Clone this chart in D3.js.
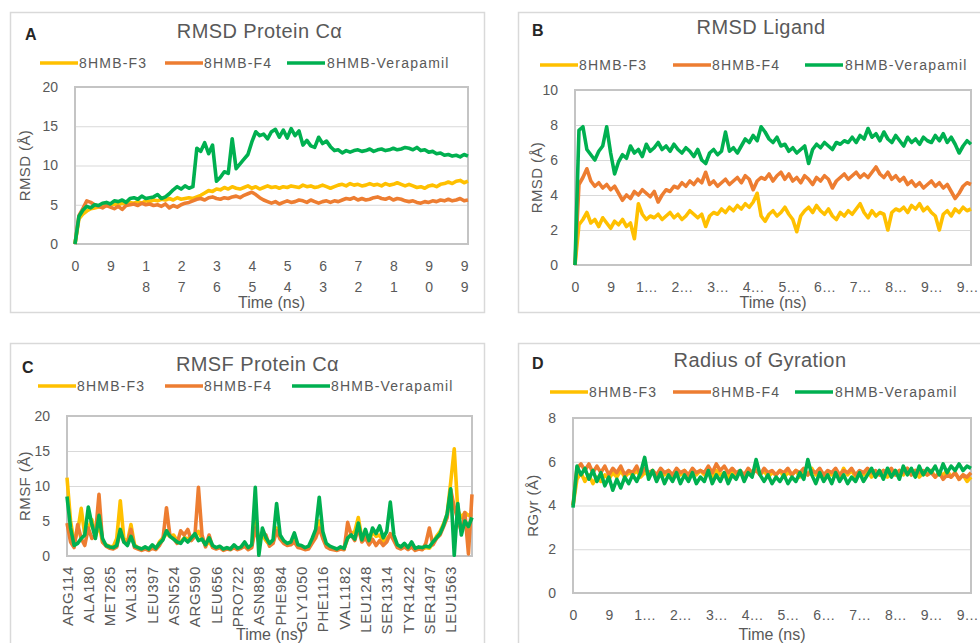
<!DOCTYPE HTML>
<html>
  <head>
    <meta charset="utf-8">
    <style>
      body { margin: 0; background: #ffffff; }
      svg text { font-family: "Liberation Sans", Arial, sans-serif; }
    </style>
  </head>
  <body>

	<script type="text/javascript" src="https://cdn.jsdelivr.net/npm/d3@7/dist/d3.min.js"></script>

    <script>

		// *** DATA ***

		// Series (same order in every panel)
		var seriesNames = ['8HMB-F3', '8HMB-F4', '8HMB-Verapamil'];
		var seriesColors = ['#FFC000', '#ED7D31', '#00B050'];

		// Time axis ticks (ns) and their labels
		var timeTicks = [0, 9, 18, 27, 36, 45, 54, 63, 72, 81, 90, 99];
		var timeLabelsFull = ['0', '9', '18', '27', '36', '45', '54', '63', '72', '81', '90', '99'];
		var timeLabelsCut = ['0', '9', '1…', '2…', '3…', '4…', '5…', '6…', '7…', '8…', '9…', '9…'];

		// Y ticks
		var yTicksRmsdProt = [0, 5, 10, 15, 20];
		var yTicksRmsdLig = [0, 2, 4, 6, 8, 10];
		var yTicksRmsf = [0, 5, 10, 15, 20];
		var yTicksRgyr = [0, 2, 4, 6, 8];

		// A: RMSD Protein C-alpha, one value per ns (0..100)
		var rmsdProtF3 = [0,3.2,3.8,4.2,4.5,4.6,4.7,4.8,4.9,5.0,
			5.1,5.0,5.2,5.1,5.3,5.2,5.4,5.2,5.5,5.4,
			5.6,5.5,5.7,5.6,5.8,5.6,5.9,5.7,5.8,5.9,
			5.8,6.0,6.2,6.5,6.8,6.7,7.0,6.9,7.2,7.0,
			7.3,7.1,7.0,7.2,7.4,7.1,7.3,7.0,7.2,7.4,
			7.2,7.3,7.1,7.3,7.2,7.4,7.3,7.2,7.5,7.3,
			7.4,7.2,7.3,7.5,7.3,7.1,7.3,7.5,7.6,7.4,
			7.7,7.5,7.6,7.4,7.5,7.7,7.5,7.6,7.4,7.7,
			7.5,7.6,7.8,7.6,7.4,7.6,7.4,7.2,7.3,7.1,
			7.4,7.5,7.3,7.6,7.7,7.9,7.7,8.0,8.1,7.8,
			8.0];
		var rmsdProtF4 = [0,3.6,4.5,5.5,5.3,5.0,4.8,4.6,4.9,4.7,
			4.5,4.8,4.4,4.9,5.0,5.1,4.9,5.2,5.0,5.1,
			4.9,5.0,4.8,5.1,4.6,4.9,4.7,5.0,5.2,5.3,
			5.5,5.7,5.8,5.6,5.9,6.0,5.8,5.7,5.9,5.8,
			6.0,6.1,5.9,6.2,6.4,6.6,6.3,5.9,5.6,5.4,
			5.2,5.4,5.1,5.3,5.5,5.3,5.4,5.6,5.5,5.3,
			5.6,5.4,5.2,5.4,5.5,5.3,5.5,5.4,5.6,5.8,
			5.7,5.9,5.6,5.8,5.6,5.7,5.9,6.0,5.8,5.7,
			5.9,5.6,5.8,5.7,5.5,5.4,5.5,5.3,5.2,5.4,
			5.3,5.5,5.4,5.6,5.5,5.7,5.5,5.6,5.8,5.5,
			5.6];
		var rmsdProtVer = [0,3.5,4.3,4.8,4.6,5.0,4.9,5.2,5.3,5.1,
			5.5,5.4,5.6,5.3,5.8,5.9,5.7,6.1,5.8,5.9,
			6.0,6.3,5.8,6.0,6.4,6.9,7.3,7.0,7.4,7.1,
			7.3,12.2,11.8,12.9,11.5,12.6,8.0,8.5,9.2,9.0,
			13.4,9.6,10.2,10.8,11.4,13.0,14.3,13.8,14.0,13.4,
			14.3,14.6,13.6,14.5,13.5,14.7,13.8,14.4,12.6,13.2,
			12.5,12.3,13.6,12.8,13.1,12.4,11.9,12.0,11.6,11.9,
			11.7,11.9,12.0,11.8,11.9,12.1,11.8,12.0,12.1,11.9,
			12.0,12.2,12.0,12.1,12.3,12.2,12.0,12.3,11.9,12.0,
			11.7,11.8,11.5,11.6,11.3,11.4,11.2,11.3,11.1,11.4,
			11.2];

		// B: RMSD Ligand
		var rmsdLigF3 = [0,2.3,2.6,3.0,2.4,2.6,2.2,2.7,2.4,2.1,
			2.5,2.3,2.6,2.2,2.4,1.5,3.5,2.9,2.6,2.8,
			2.7,2.9,2.6,2.8,3.0,2.7,2.9,2.6,2.8,3.1,
			2.9,2.7,2.9,2.2,2.8,3.0,2.9,3.2,3.0,3.3,
			3.1,3.4,3.2,3.5,3.3,3.6,4.1,2.8,2.5,2.9,
			3.1,2.8,3.0,3.3,2.9,2.6,1.9,2.8,3.1,3.3,
			3.0,3.4,3.1,2.9,3.2,2.8,2.6,3.0,2.8,3.1,
			2.9,3.2,3.5,3.0,2.7,3.1,2.8,3.0,2.9,2.0,
			3.0,3.2,3.1,3.3,3.0,3.4,3.2,3.5,3.1,3.3,
			3.0,2.8,2.0,2.9,3.1,2.8,3.2,3.0,3.3,3.1,
			3.2];
		var rmsdLigF4 = [0,4.6,5.0,5.5,4.8,4.5,4.7,4.4,4.6,4.3,
			4.5,4.1,3.7,4.0,3.8,4.2,4.0,4.3,4.1,3.9,
			4.2,3.6,4.0,4.3,4.2,4.5,4.4,4.7,4.5,4.8,
			4.6,4.9,4.7,5.3,4.6,4.8,4.5,4.7,4.9,4.6,
			4.8,5.0,4.7,5.1,4.9,4.3,4.8,5.0,4.9,5.2,
			4.8,5.1,5.3,4.9,5.2,4.8,5.0,4.7,5.1,4.9,
			4.6,5.0,4.8,5.1,4.9,4.4,4.8,5.0,5.2,4.9,
			5.1,5.3,5.0,5.2,5.0,5.3,5.6,5.2,5.0,5.3,
			4.9,5.1,4.8,5.0,4.6,4.8,4.5,4.7,4.4,4.6,
			4.8,4.5,4.7,4.4,4.6,4.2,3.8,4.1,4.5,4.7,
			4.6];
		var rmsdLigVer = [0,7.7,7.9,6.6,6.3,6.0,6.5,6.8,7.9,6.4,
			5.2,5.9,6.3,6.1,6.8,6.4,6.6,6.2,6.9,6.5,
			6.7,7.0,6.6,6.8,6.5,6.9,6.6,6.4,6.7,6.5,
			6.2,6.6,6.0,5.8,6.4,6.6,6.3,6.5,7.6,6.5,
			6.7,6.4,6.8,7.2,7.0,7.4,7.1,7.9,7.6,7.2,
			7.0,7.3,6.8,6.9,6.5,6.7,6.4,6.6,6.8,5.8,
			6.6,6.9,6.7,7.0,6.8,6.6,7.0,6.9,7.1,7.0,
			7.3,7.0,7.4,7.2,7.8,7.3,7.5,7.1,7.6,7.2,
			7.0,7.4,7.1,6.8,7.3,7.0,7.2,6.9,7.3,7.1,
			7.0,7.4,7.1,7.5,7.0,7.3,6.9,6.4,6.8,7.1,
			6.9];

		// C: RMSF Protein C-alpha, per residue (one label every 6 points)
		var residueLabels = ['ARG114', 'ALA180', 'MET265', 'VAL331', 'LEU397', 'ASN524', 'ARG590', 'LEU656', 'PRO722', 'ASN898',
			'PHE984', 'GLY1050', 'PHE1116', 'VAL1182', 'LEU1248', 'SER1314', 'TYR1422', 'SER1497', 'LEU1563'];
		var residueStep = 6;
		var rmsfF3 = [11.2,5.0,2.0,3.5,6.8,3.0,4.0,5.2,2.8,4.5,
			2.0,1.6,1.4,1.3,2.5,7.9,2.5,2.0,4.5,1.6,
			1.2,1.0,1.2,0.9,1.3,1.0,2.0,2.6,3.2,2.8,
			3.0,2.2,2.0,2.6,2.5,2.4,2.8,3.5,2.5,1.5,
			2.0,1.3,1.1,1.3,0.9,1.1,1.0,1.4,1.0,1.2,
			1.6,1.0,1.4,5.0,2.5,3.0,2.2,1.6,2.0,4.0,
			2.6,2.0,1.6,1.8,2.5,1.4,1.3,1.0,1.2,2.0,
			3.0,5.0,2.8,1.5,1.2,1.0,0.9,1.1,1.0,2.5,
			3.2,3.5,5.5,2.5,3.0,2.0,3.4,2.8,3.0,2.0,
			2.5,3.0,2.4,1.4,1.2,1.5,1.0,1.6,0.9,1.1,
			1.0,1.2,1.1,1.8,2.8,3.5,4.6,6.0,10.5,15.3,
			6.5,5.5,6.2,5.8,6.0];
		var rmsfF4 = [4.7,2.0,1.2,4.5,2.5,1.5,4.0,2.5,3.0,8.8,
			2.0,1.4,1.1,1.0,1.3,3.6,2.0,1.8,3.8,1.2,
			1.0,0.8,1.0,0.8,1.1,0.9,1.5,2.4,6.9,2.8,
			2.5,1.8,3.6,3.0,3.8,2.2,2.8,9.8,3.0,1.3,
			3.0,1.2,1.0,1.2,0.8,1.0,0.9,1.2,0.9,1.1,
			1.4,0.9,1.2,4.0,2.0,3.2,3.0,1.4,1.8,3.6,
			2.4,1.8,1.5,1.6,2.0,1.2,1.1,0.9,1.0,1.8,
			2.6,4.0,2.5,1.3,1.0,0.9,0.8,1.0,0.9,4.8,
			3.0,2.2,4.0,2.0,2.6,1.6,2.4,1.5,2.2,1.5,
			2.0,3.2,2.2,1.2,1.0,1.3,0.9,1.3,0.8,1.0,
			0.9,1.8,4.0,1.6,2.5,3.0,4.2,5.5,9.5,7.0,
			5.2,3.5,6.2,0.3,8.8];
		var rmsfVer = [8.5,4.0,1.5,1.8,2.5,3.0,7.0,4.5,2.5,5.8,
			2.5,1.5,1.3,1.2,1.5,3.8,2.0,1.5,2.8,1.4,
			1.2,1.0,1.3,1.0,1.6,1.1,1.8,2.3,3.6,2.8,
			2.4,2.0,1.8,2.5,2.0,2.6,3.2,2.2,2.4,1.6,
			2.6,1.5,1.2,1.4,1.0,1.2,1.0,1.6,1.1,1.3,
			2.0,1.2,1.6,9.8,0.1,4.0,2.6,1.8,2.3,7.5,
			3.0,2.2,1.8,2.0,3.3,1.6,1.5,1.2,1.4,2.5,
			3.8,8.4,3.5,1.8,1.4,1.2,1.0,1.3,1.1,2.6,
			3.0,2.4,4.7,2.3,3.8,2.2,4.0,3.2,4.3,2.6,
			3.5,7.7,3.0,1.6,1.3,1.8,1.2,2.0,1.1,1.3,
			1.2,1.4,1.3,2.0,2.6,3.2,4.4,6.0,9.6,0.1,
			7.5,3.0,5.0,4.2,5.5];

		// D: Radius of Gyration
		var rgyrF3 = [4.0,5.2,5.5,5.1,5.4,5.0,5.3,5.1,5.4,5.2,
			5.5,5.3,5.6,5.3,5.5,5.4,5.6,5.3,5.5,5.4,
			5.6,5.3,5.5,5.4,5.6,5.3,5.5,5.4,5.6,5.3,
			5.5,5.4,5.6,5.4,5.5,5.3,5.6,5.4,5.5,5.3,
			5.6,5.4,5.5,5.3,5.6,5.4,5.7,5.4,5.6,5.3,
			5.5,5.4,5.6,5.3,5.5,5.4,5.6,5.3,5.5,5.4,
			5.7,5.4,5.6,5.3,5.5,5.4,5.6,5.3,5.7,5.4,
			5.6,5.3,5.5,5.4,5.6,5.3,5.5,5.4,5.6,5.3,
			5.5,5.4,5.6,5.4,5.7,5.4,5.6,5.3,5.5,5.4,
			5.6,5.3,5.5,5.4,5.6,5.3,5.5,5.2,5.4,5.1,
			5.3];
		var rgyrF4 = [4.0,5.7,5.9,5.6,5.9,5.5,5.8,5.5,5.8,5.4,
			5.7,5.5,5.8,5.4,5.6,5.5,5.8,5.4,5.7,5.5,
			5.6,5.4,5.7,5.5,5.6,5.4,5.7,5.5,5.6,5.4,
			5.7,5.5,5.6,5.5,5.8,5.5,5.9,5.6,5.8,5.5,
			5.7,5.5,5.6,5.4,5.7,5.5,5.6,5.4,5.7,5.5,
			5.6,5.4,5.6,5.5,5.7,5.4,5.6,5.5,5.7,5.4,
			5.6,5.5,5.7,5.4,5.6,5.5,5.7,5.4,5.6,5.5,
			5.7,5.4,5.6,5.5,5.7,5.5,5.6,5.4,5.6,5.5,
			5.7,5.4,5.6,5.5,5.7,5.4,5.6,5.5,5.6,5.4,
			5.5,5.3,5.5,5.2,5.4,5.3,5.5,5.2,5.4,5.3,
			5.5];
		var rgyrVer = [3.9,5.8,5.4,5.7,5.2,5.6,5.1,5.5,4.9,5.3,
			4.7,5.2,4.8,5.3,5.0,5.4,5.1,5.5,6.2,5.2,
			5.6,5.1,5.5,5.0,5.4,5.1,5.5,5.0,5.4,5.1,
			5.5,5.0,5.3,5.1,5.6,5.0,5.4,5.1,5.5,5.0,
			5.4,5.2,5.6,5.1,5.5,5.3,6.1,5.4,5.1,5.4,
			5.0,5.3,5.1,5.4,5.0,5.3,5.1,5.5,5.2,6.1,
			5.4,5.0,5.5,5.1,5.4,5.0,5.5,5.1,5.4,5.0,
			5.3,5.1,5.5,5.1,5.4,5.7,5.3,5.6,5.2,5.7,
			5.3,5.6,5.2,5.8,5.4,5.7,5.3,5.8,5.4,5.7,
			5.5,5.8,5.4,5.9,5.5,5.8,5.6,5.9,5.6,5.8,
			5.7];

		// *** LAYOUT ***

		var W = 980, H = 643;
		var textGrey = '#595959';

		var panels = [
			{
				letter: 'A', title: 'RMSD Protein Cα', yTitle: 'RMSD (Å)', xTitle: 'Time (ns)',
				box: [10, 12, 484, 312], plot: [75, 87, 468, 244],
				titleY: 38, letterX: 25, legendY: 63, legend: [[40, 82], [165, 207], [287, 330]],
				yTitleX: 25, xTitleY: 308, yTicks: yTicksRmsdProt,
				xDomain: [0, 100], xTicks: timeTicks, xLabels: timeLabelsFull, xMode: 'stack',
				series: [rmsdProtF3, rmsdProtF4, rmsdProtVer]
			},
			{
				letter: 'B', title: 'RMSD Ligand', yTitle: 'RMSD (Å)', xTitle: 'Time (ns)',
				box: [518, 12, 992, 312], plot: [575, 90, 971, 265],
				titleY: 34, letterX: 532, legendY: 65, legend: [[540, 582], [673, 715], [805, 848]],
				yTitleX: 537, xTitleY: 308, yTicks: yTicksRmsdLig,
				xDomain: [0, 100], xTicks: timeTicks, xLabels: timeLabelsCut, xMode: 'flat',
				series: [rmsdLigF3, rmsdLigF4, rmsdLigVer]
			},
			{
				letter: 'C', title: 'RMSF Protein Cα', yTitle: 'RMSF (Å)', xTitle: 'Time (ns)',
				box: [10, 343, 484, 660], plot: [67, 416, 472, 556],
				titleY: 371, letterX: 22, legendY: 386, legend: [[38, 80], [165, 207], [292, 334]],
				yTitleX: 25, xTitleY: 640, yTicks: yTicksRmsf,
				xDomain: [0, rmsfF3.length - 1],
				xTicks: residueLabels.map(function(d, i){ return i * residueStep; }),
				xLabels: residueLabels, xMode: 'rotate',
				series: [rmsfF3, rmsfF4, rmsfVer]
			},
			{
				letter: 'D', title: 'Radius of Gyration', yTitle: 'RGyr (Å)', xTitle: 'Time (ns)',
				box: [518, 343, 992, 660], plot: [573, 418, 971, 593],
				titleY: 367, letterX: 532, legendY: 392, legend: [[550, 592], [673, 715], [795, 838]],
				yTitleX: 533, xTitleY: 640, yTicks: yTicksRgyr,
				xDomain: [0, 100], xTicks: timeTicks, xLabels: timeLabelsCut, xMode: 'flat',
				series: [rgyrF3, rgyrF4, rgyrVer]
			}
		];

		// *** DEFINE FUNCTIONS ***

		// FUNCTION: Draw one chart panel
		function drawPanel(svg, p){

			var g = svg.append('g');
			var pl = p.plot[0], pt = p.plot[1], pr = p.plot[2], pb = p.plot[3];

			// chart frame
			g.append('rect')
				.attr('x', p.box[0] + 0.5)
				.attr('y', p.box[1] + 0.5)
				.attr('width', p.box[2] - p.box[0])
				.attr('height', p.box[3] - p.box[1])
				.style('fill', '#ffffff')
				.style('stroke', '#d9d9d9')
				.style('stroke-width', 1.5);

			var x = d3.scaleLinear().domain(p.xDomain).range([pl, pr]);
			var y = d3.scaleLinear().domain([0, p.yTicks[p.yTicks.length - 1]]).range([pb, pt]);

			// gridlines
			var grid = g.append('g')
				.attr('transform', 'translate(' + pl + ',0)')
				.call(d3.axisLeft(y).tickValues(p.yTicks).tickSize(-(pr - pl)).tickFormat(''));
			grid.select('.domain').remove();
			grid.selectAll('line').style('stroke', '#d9d9d9').style('stroke-width', 1);

			// y tick labels
			var yAx = g.append('g')
				.attr('transform', 'translate(' + pl + ',0)')
				.call(d3.axisLeft(y).tickValues(p.yTicks).tickSize(0).tickPadding(17));
			yAx.select('.domain').remove();
			yAx.selectAll('text')
				.attr('font-family', null)
				.style('font-size', '14px')
				.style('fill', textGrey);

			// plot area border
			g.append('rect')
				.attr('x', pl)
				.attr('y', pt)
				.attr('width', pr - pl)
				.attr('height', pb - pt)
				.style('fill', 'none')
				.style('stroke', '#c4c4c4')
				.style('stroke-width', 2);

			// x tick labels
			var xAx = g.append('g')
				.attr('transform', 'translate(0,' + pb + ')')
				.call(d3.axisBottom(x).tickValues(p.xTicks).tickSize(0)
					.tickFormat(function(d, i){ return p.xLabels[i]; }));
			xAx.select('.domain').remove();
			xAx.selectAll('text')
				.attr('font-family', null)
				.style('font-size', '14px')
				.style('fill', textGrey);

			if(p.xMode == 'stack'){
				// wrap each label one character per line
				xAx.selectAll('text').each(function(d, i){
					var t = d3.select(this);
					var chars = p.xLabels[i].split('');
					t.text(null).attr('y', 0).attr('dy', null);
					chars.forEach(function(c, k){
						t.append('tspan').attr('x', 0).attr('y', 27 + k * 21).text(c);
					});
				});
			}else if(p.xMode == 'flat'){
				xAx.selectAll('text').attr('y', 0).attr('dy', null)
					.attr('transform', 'translate(0,27)');
			}else{
				xAx.selectAll('text')
					.attr('y', 0).attr('dy', null)
					.attr('transform', 'translate(5,10) rotate(-90)')
					.style('font-size', '15px')
					.style('letter-spacing', '0.6px')
					.style('text-anchor', 'end');
			}

			// series lines
			var line = d3.line()
				.x(function(d, i){ return x(i); })
				.y(function(d){ return y(d); });

			p.series.forEach(function(vals, si){
				g.append('path')
					.datum(vals)
					.attr('d', line)
					.style('fill', 'none')
					.style('stroke', seriesColors[si])
					.style('stroke-width', 3.6)
					.style('stroke-linejoin', 'round');
			});

			// panel letter
			g.append('text')
				.attr('x', p.letterX)
				.attr('y', p.titleY + 2)
				.style('font-size', '16px')
				.style('font-weight', 'bold')
				.style('fill', '#262626')
				.text(p.letter);

			// title
			g.append('text')
				.attr('x', (p.plot[0] + p.plot[2]) / 2 - 12)
				.attr('y', p.titleY)
				.style('font-size', '20px')
				.style('letter-spacing', '0.4px')
				.style('text-anchor', 'middle')
				.style('fill', textGrey)
				.text(p.title);

			// legend
			p.legend.forEach(function(pos, si){
				g.append('line')
					.attr('x1', pos[0]).attr('x2', pos[0] + 38)
					.attr('y1', p.legendY).attr('y2', p.legendY)
					.style('stroke', seriesColors[si])
					.style('stroke-width', 3.5);
				g.append('text')
					.attr('x', pos[1] - 3)
					.attr('y', p.legendY + 5)
					.style('font-size', '14px')
					.style('letter-spacing', '1.2px')
					.style('fill', textGrey)
					.text(seriesNames[si]);
			});

			// y axis title
			g.append('text')
				.attr('transform', 'translate(' + (p.yTitleX + 5) + ',' + ((pt + pb) / 2) + ') rotate(-90)')
				.style('font-size', '15px')
				.style('letter-spacing', '0.4px')
				.style('text-anchor', 'middle')
				.style('fill', textGrey)
				.text(p.yTitle);

			// x axis title
			g.append('text')
				.attr('x', (pl + pr) / 2)
				.attr('y', p.xTitleY)
				.style('font-size', '16px')
				.style('text-anchor', 'middle')
				.style('fill', textGrey)
				.text(p.xTitle);
		}

		// *** CODE *** //

		var svg = d3.select('body').append('svg')
			.attr('width', W)
			.attr('height', H);

		panels.forEach(function(p){ drawPanel(svg, p); });

	</script>
  </body>
</html>
